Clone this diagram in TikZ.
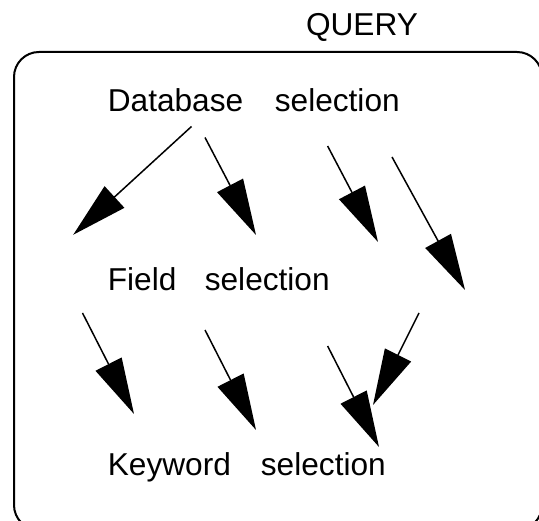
\documentclass[tikz,border=0pt]{standalone}
\usepackage{fontspec}
\setmainfont{Liberation Sans}
\usetikzlibrary{arrows.meta}

\begin{document}
\begin{tikzpicture}[
    stage/.style={anchor=base west, inner sep=0pt, font=\fontsize{18pt}{22pt}\selectfont},
    flow/.style={-{Triangle[length=1.12cm, width=0.58cm]}, line width=0.03cm}
  ]

  % Page frame
  \clip (0,0) rectangle (10.78,10.4);

  % Outer rounded box with its title
  \draw[line width=0.04cm, rounded corners=0.5cm] (0.28,-0.2) rectangle (10.84,9.36);
  \node[anchor=base, inner sep=0pt, font=\fontsize{18pt}{22pt}\selectfont] (query) at (7.24,9.68) {QUERY};

  % Selection steps
  \node[stage] (db)    at (2.15,8.166) {Database\quad selection};
  \node[stage] (field) at (2.15,4.594) {Field\hspace{0.9em}selection};
  \node[stage] (kw)    at (2.15,0.90)  {Keyword\hspace{0.95em}selection};

  % Arrows between the steps
  \foreach \n/\xa/\ya/\xb/\yb in {1/3.83/7.87/1.464/5.704,
                                  2/4.10/7.65/5.12/5.70,
                                  3/6.552/7.48/7.56/5.56,
                                  4/7.84/7.26/9.30/4.60,
                                  5/1.65/4.14/2.68/2.12,
                                  6/4.10/3.80/5.12/1.80,
                                  7/6.552/3.48/7.58/1.46,
                                  8/8.38/4.14/7.46/2.30} {
    \coordinate (from\n) at (\xa,\ya);
    \coordinate (to\n) at (\xb,\yb);
    \draw[flow] (from\n) -- (to\n);
  }

\end{tikzpicture}
\end{document}
